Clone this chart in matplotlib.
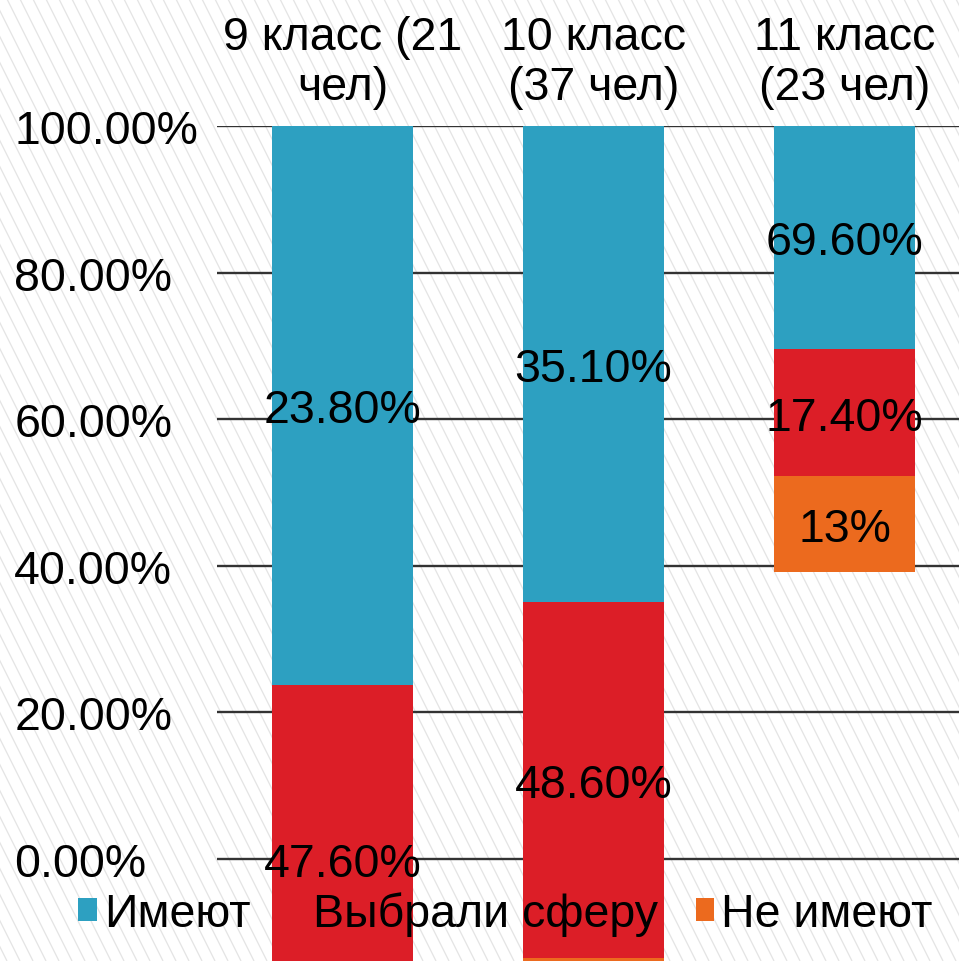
import matplotlib
matplotlib.use('Agg')
import matplotlib.pyplot as plt
import numpy as np
from matplotlib.patches import Patch
from matplotlib.collections import LineCollection

plt.rcParams['font.family'] = ['Liberation Sans', 'DejaVu Sans']

# ==== data ====
classes = ['9 класс (21\nчел)', '10 класс\n(37 чел)', '11 класс\n(23 чел)']
series = ['Имеют', 'Выбрали сферу', 'Не имеют']
have = [23.8, 35.1, 69.6]
chosen = [47.6, 48.6, 17.4]
not_have = [28.6, 16.2, 13.0]
have_lbl = ['23.80%', '35.10%', '69.60%']
chosen_lbl = ['47.60%', '48.60%', '17.40%']
not_have_lbl = ['28.60%', '16.20%', '13%']
yticks = [0, 20, 40, 60, 80, 100]
ytick_lbl = ['0.00%', '20.00%', '40.00%', '60.00%', '80.00%', '100.00%']

colors = ['#2DA0C1', '#DC1E27', '#EC6A1E']
fs = 33.5

W, H = 959, 962
fig = plt.figure(figsize=(W / 100, H / 100), dpi=100)
fig.patch.set_facecolor('white')

# faint steep diagonal stripes in the background
segs = [[(x0 / W, 1.0), ((x0 + H * 0.5) / W, 0.0)] for x0 in range(-500, W + 20, 13)]
fig.add_artist(LineCollection(segs, colors='#e4e4e4', linewidths=0.9,
                              transform=fig.transFigure, zorder=-10))

ax = fig.add_axes([0.2263, -0.0464, 0.7852, 0.9144])
ax.set_facecolor('none')
ymin, ymax = -20, 100
ax.set_ylim(ymin, ymax)
ax.set_xlim(-0.5, 2.5)

x = np.arange(len(classes))
w = 0.562
have = np.array(have)
chosen = np.array(chosen)
not_have = np.array(not_have)

# blue sits on top of its value and runs up to the axis top
ax.bar(x, ymax - have, bottom=have, width=w, color=colors[0], zorder=2)
red_bottom = have - chosen
ax.bar(x, chosen, bottom=red_bottom, width=w, color=colors[1], zorder=2)
or_bottom = red_bottom - not_have
ax.bar(x, not_have, bottom=or_bottom, width=w, color=colors[2], zorder=2)

def put(xs, centers, labels):
    for xi, c, t in zip(xs, centers, labels):
        if c > ymin:
            ax.text(xi, c, t, ha='center', va='center_baseline', fontsize=fs,
                    color='black', zorder=5)

put(x, (have + ymax) / 2, have_lbl)
put(x, red_bottom + chosen / 2, chosen_lbl)
put(x, or_bottom + not_have / 2, not_have_lbl)

# grid
for s in ax.spines.values():
    s.set_visible(False)
ax.set_yticks(yticks)
ax.set_yticklabels(ytick_lbl)
ax.yaxis.grid(True, color='#333333', linewidth=1.7, zorder=1)
ax.set_axisbelow(True)
ax.tick_params(axis='y', length=0, labelsize=fs, pad=146)
for t in ax.get_yticklabels():
    t.set_horizontalalignment('left')

ax.xaxis.tick_top()
ax.set_xticks(x)
ax.set_xticklabels(classes)
ax.tick_params(axis='x', length=0, labelsize=fs, pad=12)

handles = [Patch(facecolor=c, edgecolor='none') for c in colors]
fig.legend(handles, series, loc='center', bbox_to_anchor=(505.5 / W, 1 - 915 / H),
           ncol=3, frameon=False, fontsize=fs, handlelength=0.4, handleheight=0.4,
           handletextpad=0.15, columnspacing=0.8, borderpad=0, borderaxespad=0)

plt.savefig('out.png', dpi=100)
